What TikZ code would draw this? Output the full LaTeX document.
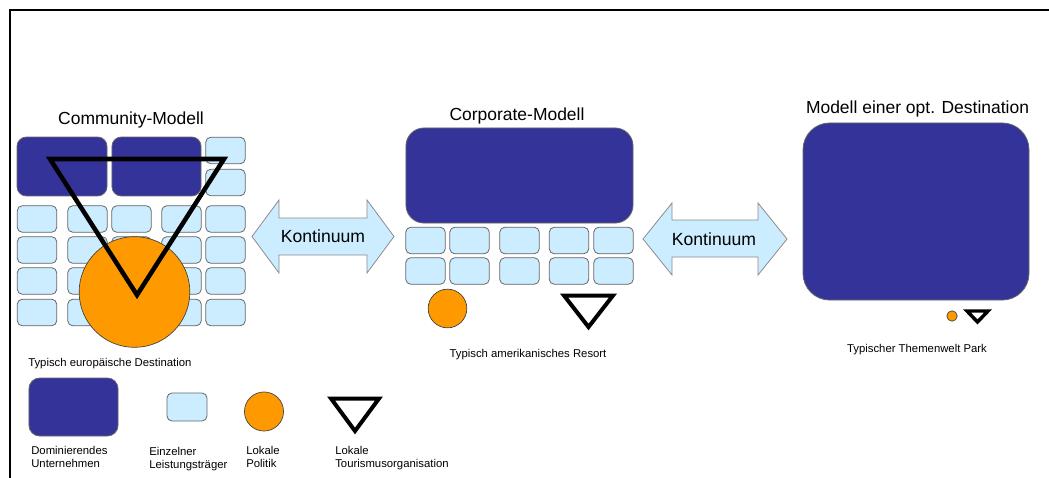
\documentclass[tikz,border=0pt]{standalone}
\usepackage{fontspec}
\setmainfont{Liberation Sans}
\definecolor{darkb}{HTML}{333399}
\definecolor{lightb}{HTML}{CCECFF}
\definecolor{orangec}{HTML}{FF9900}
\definecolor{edge}{HTML}{666666}
\begin{document}
\begin{tikzpicture}[x=0.75pt,y=-0.75pt,
  title/.style={anchor=base, inner sep=0pt, font=\fontsize{13.1}{15}\selectfont},
  caption/.style={anchor=base, inner sep=0pt, font=\fontsize{8.5}{9.75}\selectfont},
  legendtext/.style={anchor=north west, inner sep=0pt, align=left, font=\fontsize{8.5}{9.75}\selectfont},
  dbox/.style={draw=edge, fill=darkb, line width=0.6pt, inner sep=0pt},
  lbox/.style={draw=edge, fill=lightb, line width=0.6pt, rounded corners=3.75pt,
    minimum width=29.6pt, minimum height=19.9pt, inner sep=0pt},
  politik/.style={circle, draw=black!75, fill=orangec, line width=0.5pt, inner sep=0pt},
  tri/.style={draw=black, line join=miter, line width=#1},
  arrowsh/.style={draw=black!45, fill=lightb, line width=0.6pt, line join=miter},
  kont/.style={inner sep=0pt, font=\fontsize{13.2}{15}\selectfont}
]
\useasboundingbox (0,0) rectangle (1049,478);
\fill[white] (0,0) rectangle (1049,478);

% frame
\draw[line width=1.5pt] (10,478) -- (10,10) -- (1049,10);

% ---------------- Community-Modell ----------------
\node[title] (t1) at (131,124) {Community-Modell};
\node[dbox, rounded corners=7pt, minimum width=67.5pt, minimum height=44.2pt] (c-d1) at (62,166.5) {};
\node[dbox, rounded corners=7pt, minimum width=66.8pt, minimum height=44.2pt] (c-d2) at (156.5,166.5) {};
\node[lbox] (c-s1) at (225.5,150.5) {};
\node[lbox] (c-s2) at (225.5,182.5) {};
\foreach \cx [count=\i] in {37,87.5,131.5,181.5,225.5}{
  \foreach \cy [count=\j] in {219,250,281,312.5}{
    \node[lbox] (c-\i-\j) at (\cx,\cy) {};
  }
}
\node[politik, minimum size=83pt] (c-pol) at (134.5,292) {};
\draw[tri=3.4pt] (50,159) -- (224,159) -- (137,295) -- cycle;
\node[caption, anchor=base west] (cap1) at (28,366.5) {Typisch europäische Destination};

% first continuum arrow
\draw[arrowsh] (252,236.5) -- (279,200) -- (279,218) -- (367,218) -- (367,200) -- (394,236.5)
  -- (367,273) -- (367,255) -- (279,255) -- (279,273) -- cycle;
\node[kont] (k1) at (323,236.5) {Kontinuum};

% ---------------- Corporate-Modell ----------------
\node[title] (t2) at (517,120) {Corporate-Modell};
\node[dbox, rounded corners=13.5pt, minimum width=170.3pt, minimum height=71.3pt] (r-d) at (519.5,175.5) {};
\foreach \cx [count=\i] in {425.5,469.5,519.5,569,613.5}{
  \foreach \cy [count=\j] in {240.5,271}{
    \node[lbox] (r-\i-\j) at (\cx,\cy) {};
  }
}
\node[politik, minimum size=29pt] (r-pol) at (447.5,308.5) {};
\draw[tri=3pt] (564,295.5) -- (613,295.5) -- (588.5,327) -- cycle;
\node[caption] (cap2) at (528,357) {Typisch amerikanisches Resort};

% second continuum arrow
\draw[arrowsh] (643,239) -- (672,203) -- (672,220) -- (758,220) -- (758,203) -- (787,239)
  -- (758,275) -- (758,257) -- (672,257) -- (672,275) -- cycle;
\node[kont] (k2) at (714,239.5) {Kontinuum};

% ---------------- optimale Destination ----------------
\node[title] (t3) at (917.5,113.5) {Modell einer opt. Destination};
\node[dbox, rounded corners=20pt, minimum width=169.5pt, minimum height=132.8pt] (o-d) at (916,211.5) {};
\node[politik, minimum size=7.8pt] (o-pol) at (952,316) {};
\draw[tri=2.6pt] (967,311) -- (988,311) -- (977.5,322) -- cycle;
\node[caption] (cap3) at (917,352) {Typischer Themenwelt Park};

% ---------------- legend ----------------
\node[dbox, rounded corners=8pt, minimum width=66.8pt, minimum height=43.5pt] (l-d) at (73.5,407) {};
\node[lbox, minimum width=30pt, minimum height=21pt] (l-s) at (187,407) {};
\node[politik, minimum size=29.3pt] (l-pol) at (264,411.5) {};
\draw[tri=3pt] (331,398.5) -- (379,398.5) -- (355,431) -- cycle;
\node[legendtext] (l1) at (31,446) {Dominierendes\\Unternehmen};
\node[legendtext] (l2) at (149,447) {Einzelner\\Leistungsträger};
\node[legendtext] (l3) at (246,446) {Lokale\\Politik};
\node[legendtext] (l4) at (335,446) {Lokale\\Tourismusorganisation};
\end{tikzpicture}
\end{document}
